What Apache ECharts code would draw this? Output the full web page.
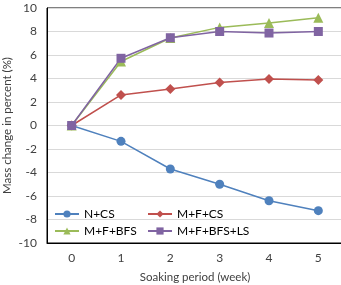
<!DOCTYPE html>
<html>
<head>
<meta charset="utf-8">
<script src="https://cdn.jsdelivr.net/npm/echarts@6/dist/echarts.min.js"></script>
<style>
  html, body { margin: 0; padding: 0; background: #fff; }
  #chart { width: 341px; height: 285px; }
</style>
</head>
<body>
<div id="chart"></div>
<script>
var weeks = ['0', '1', '2', '3', '4', '5']
var nCs = [0, -1.35, -3.7, -5.0, -6.4, -7.25]
var mfCs = [0, 2.6, 3.1, 3.65, 3.95, 3.88]
var mfBfs = [0, 5.45, 7.45, 8.35, 8.72, 9.18]
var mfBfsLs = [0, 5.72, 7.47, 8.0, 7.87, 8.0]

var font = 'Lato, "Open Sans", sans-serif'
var textColor = '#404040'

function makeSeries(name, data, color, symbol, size) {
    return {
        name: name,
        type: 'line',
        data: data,
        symbol: symbol,
        symbolSize: size,
        lineStyle: { color: color, width: 1.5 },
        itemStyle: { color: color },
        z: 3
    }
}

function makeLegend(name, left, top) {
    return {
        data: [name],
        left: left,
        top: top,
        itemWidth: 24,
        itemHeight: 9,
        itemGap: 0,
        padding: 0,
        textStyle: { fontFamily: font, fontSize: 12, color: '#000' }
    }
}

var myChart = echarts.init(document.getElementById('chart'))
var option = {
    animation: false,
    grid: {
        left: 47, top: 8, right: -2, bottom: 42,
        outerBoundsMode: 'none',
        show: true, borderColor: '#000', borderWidth: 1
    },
    graphic: [{
        type: 'rect',
        shape: { x: 48, y: 201, width: 190, height: 41 },
        style: { fill: '#fff' },
        z: 1
    }],
    legend: [
        makeLegend('N+CS', 54, 208),
        makeLegend('M+F+CS', 147, 208),
        makeLegend('M+F+BFS', 54, 225),
        makeLegend('M+F+BFS+LS', 147, 225)
    ],
    xAxis: {
        type: 'category',
        data: weeks,
        boundaryGap: true,
        name: 'Soaking period (week)',
        nameLocation: 'middle',
        nameGap: 28,
        nameMoveOverlap: false,
        nameTextStyle: { fontFamily: font, fontSize: 11.5, color: textColor },
        axisLine: { onZero: false, lineStyle: { color: '#000', width: 1 } },
        axisTick: { show: false },
        axisLabel: { fontFamily: font, fontSize: 12, color: textColor, margin: 9 },
        z: 2
    },
    yAxis: {
        type: 'value',
        min: -10, max: 10, interval: 2,
        name: 'Mass change in percent (%)',
        nameLocation: 'middle',
        nameGap: 34,
        nameMoveOverlap: false,
        nameTextStyle: { fontFamily: font, fontSize: 11.5, color: textColor },
        axisLine: { show: true, lineStyle: { color: '#000', width: 1 } },
        axisTick: { show: false },
        axisLabel: { fontFamily: font, fontSize: 12, color: textColor, margin: 10 },
        splitLine: { lineStyle: { color: '#d9d9d9', width: 1 } },
        z: 2
    },
    series: [
        makeSeries('N+CS', nCs, '#4F81BD', 'circle', 9),
        makeSeries('M+F+CS', mfCs, '#C0504D', 'diamond', 10),
        makeSeries('M+F+BFS', mfBfs, '#9BBB59', 'triangle', 10),
        makeSeries('M+F+BFS+LS', mfBfsLs, '#8064A2', 'rect', 9)
    ]
}
myChart.setOption(option)
</script>
</body>
</html>
